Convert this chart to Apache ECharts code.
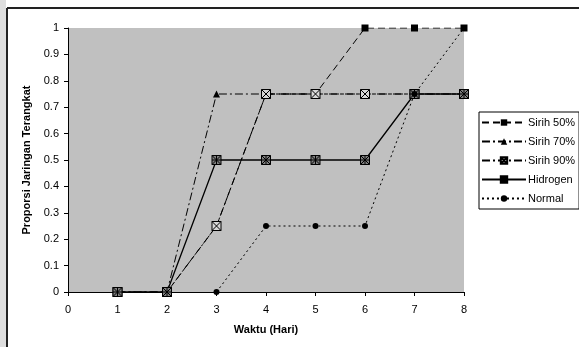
<!DOCTYPE html>
<html>
<head>
<meta charset="utf-8">
<script src="https://cdn.jsdelivr.net/npm/echarts@6/dist/echarts.min.js"></script>
<style>
  html, body { margin: 0; padding: 0; background: #fff; }
  #chart { width: 579px; height: 347px; }
</style>
</head>
<body>
<div id="chart"></div>
<script>
// hari ke-1 .. ke-8
var hari = [1, 2, 3, 4, 5, 6, 7, 8];
var sirih50 = [0, 0, 0.25, 0.75, 0.75, 1, 1, 1];
var sirih70 = [0, 0, 0.75, 0.75, 0.75, 0.75, 0.75, 0.75];
var sirih90 = [0, 0, 0.25, 0.75, 0.75, 0.75, 0.75, 0.75];
var hidrogen = [0, 0, 0.5, 0.5, 0.5, 0.5, 0.75, 0.75];
var normal = [null, null, 0, 0.25, 0.25, 0.25, 0.75, 1];
var yTicks = [0, 0.1, 0.2, 0.3, 0.4, 0.5, 0.6, 0.7, 0.8, 0.9, 1];

function pairs(vals) {
  return hari.map(function (h, i) { return [h, vals[i]]; });
}

var boxX = 'path://M0,0H10V10H0Z M0,0L10,10 M10,0L0,10';
var boxStar = 'path://M0,0H10V10H0Z M0,0L10,10 M10,0L0,10 M5,0V10 M0,5H10';

var chart = echarts.init(document.getElementById('chart'));

var option = {
  animation: false,
  textStyle: { fontFamily: 'Liberation Sans, Arial, sans-serif' },
  graphic: [
    { type: 'rect', shape: { x: 0, y: 0, width: 6, height: 347 }, style: { fill: '#dedede' }, z: -1 },
    { type: 'line', shape: { x1: 7, y1: 8, x2: 7, y2: 347 }, style: { stroke: '#222', lineWidth: 2 } },
    { type: 'line', shape: { x1: 7, y1: 8, x2: 579, y2: 8 }, style: { stroke: '#222', lineWidth: 2 } }
  ],
  grid: {
    left: 68, top: 28, right: 115, bottom: 55,
    show: true, backgroundColor: '#c0c0c0', borderWidth: 0
  },
  legend: {
    orient: 'vertical',
    left: 479, top: 112,
    width: 100,
    padding: [4, 4, 4, 2],
    itemWidth: 44, itemHeight: 8, itemGap: 6,
    backgroundColor: '#fff',
    borderColor: '#000', borderWidth: 1, borderRadius: 0,
    textStyle: { fontSize: 11, color: '#000', padding: [0, 0, 0, -3], lineHeight: 13 },
    data: ['Sirih 50%', 'Sirih 70%', 'Sirih 90%', 'Hidrogen', 'Normal']
  },
  xAxis: {
    type: 'value', min: 0, max: 8, interval: 1,
    name: 'Waktu (Hari)', nameLocation: 'middle', nameGap: 32,
    nameTextStyle: { fontSize: 11, fontWeight: 'bold', color: '#000' },
    axisLine: { lineStyle: { color: '#000', width: 1 } },
    axisTick: { show: true, length: 4, lineStyle: { color: '#000' } },
    axisLabel: { fontSize: 11, color: '#000', margin: 12 },
    splitLine: { show: false }
  },
  yAxis: {
    type: 'value', min: 0, max: 1, interval: 0.1,
    name: 'Proporsi Jaringan Terangkat', nameLocation: 'middle', nameGap: 33,
    nameTextStyle: { fontSize: 11, fontWeight: 'bold', color: '#000' },
    axisLine: { show: true, lineStyle: { color: '#000', width: 1 } },
    axisTick: { show: true, length: 4, lineStyle: { color: '#000' } },
    axisLabel: {
      fontSize: 11, color: '#000', margin: 9,
      formatter: function (v) {
        var t = yTicks.find(function (k) { return Math.abs(k - v) < 1e-6; });
        return t === undefined ? '' : String(t);
      }
    },
    splitLine: { show: false }
  },
  series: [
    {
      name: 'Sirih 50%', type: 'line', data: pairs(sirih50),
      symbol: 'rect', symbolSize: 7,
      lineStyle: { color: '#000', width: 1, type: [7, 4] },
      itemStyle: { color: '#000' }
    },
    {
      name: 'Sirih 70%', type: 'line', data: pairs(sirih70),
      symbol: 'triangle', symbolSize: 7,
      lineStyle: { color: '#000', width: 1, type: [8, 3, 2, 3] },
      itemStyle: { color: '#000' }
    },
    {
      name: 'Sirih 90%', type: 'line', data: pairs(sirih90),
      symbol: boxX, symbolSize: 9,
      lineStyle: { color: '#000', width: 1, type: [8, 3, 2, 3] },
      itemStyle: { color: '#d8d8d8', borderColor: '#000', borderWidth: 1 }
    },
    {
      name: 'Hidrogen', type: 'line', data: pairs(hidrogen),
      symbol: boxStar, symbolSize: 9,
      lineStyle: { color: '#000', width: 1.3, type: 'solid' },
      itemStyle: { color: '#808080', borderColor: '#000', borderWidth: 1 }
    },
    {
      name: 'Normal', type: 'line', data: pairs(normal),
      symbol: 'circle', symbolSize: 6,
      lineStyle: { color: '#000', width: 1, type: [2, 3] },
      itemStyle: { color: '#000' }
    }
  ]
};

chart.setOption(option);
</script>
</body>
</html>
